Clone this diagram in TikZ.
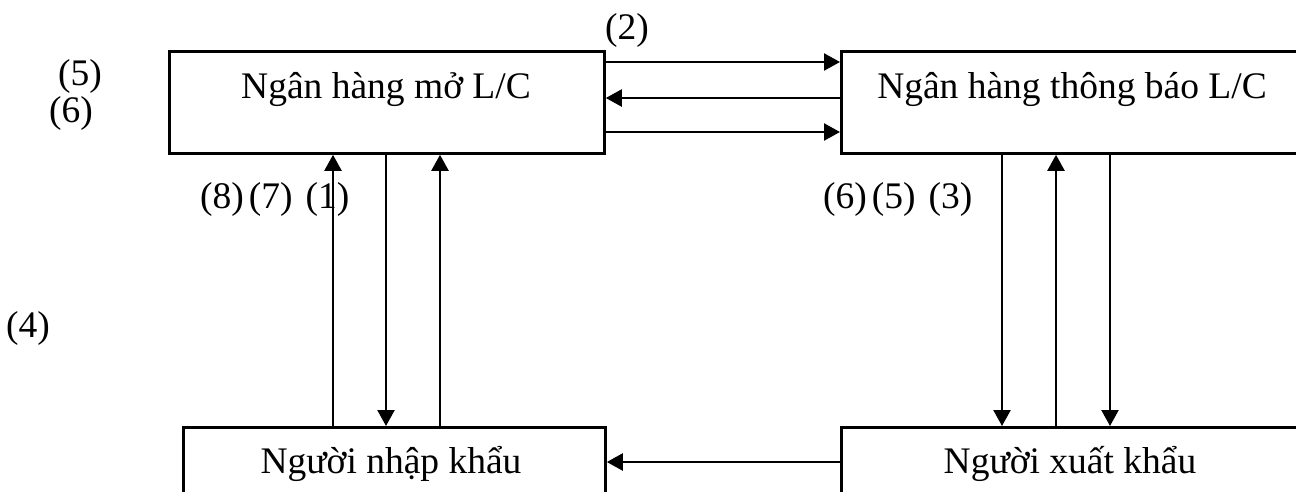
\documentclass[tikz,border=0pt]{standalone}
\usepackage{fontspec}
\setmainfont{Liberation Serif}
\usetikzlibrary{arrows.meta}
\begin{document}
\begin{tikzpicture}[x=1pt,y=-1pt,
  every node/.style={font=\fontsize{37.5}{44}\selectfont, inner sep=0pt},
  box/.style={draw, line width=2.8pt, anchor=north west},
  arr/.style={line width=2.3pt, -{Triangle[length=16pt,width=17pt]}}]
\useasboundingbox (0,0) rectangle (1296,491);
\clip (0,0) rectangle (1296,491);
% the four parties
\node[box, minimum width=435pt, minimum height=102pt] (mo) at (168,50) {};
\node[box, minimum width=520pt, minimum height=102pt] (tb) at (840,50) {};
\node[box, minimum width=422pt, minimum height=120pt] (nk) at (182,426) {};
\node[box, minimum width=520pt, minimum height=120pt] (xk) at (840,426) {};
\node (tmo) at (386,89) {Ngân hàng mở L/C};
\node (ttb) at (1072,89) {Ngân hàng thông báo L/C};
\node (tnk) at (391,464) {Người nhập khẩu};
\node (txk) at (1070,464) {Người xuất khẩu};
% banks
\draw[arr] (mo.east |- 0,62) -- (tb.west |- 0,62);
\draw[arr] (tb.west |- 0,98) -- (mo.east |- 0,98);
\draw[arr] (mo.east |- 0,132) -- (tb.west |- 0,132);
% issuing bank and importer
\draw[arr] (nk.north -| 333,0) -- (mo.south -| 333,0);
\draw[arr] (mo.south -| 386,0) -- (nk.north -| 386,0);
\draw[arr] (nk.north -| 440,0) -- (mo.south -| 440,0);
% advising bank and exporter
\draw[arr] (tb.south -| 1002,0) -- (xk.north -| 1002,0);
\draw[arr] (xk.north -| 1056,0) -- (tb.south -| 1056,0);
\draw[arr] (tb.south -| 1110,0) -- (xk.north -| 1110,0);
% exporter to importer
\draw[arr] (xk.west |- 0,462) -- (nk.east |- 0,462);
% step numbers
\node (l2) at (627,30) {(2)};
\node (l5) at (80,76) {(5)};
\node (l6) at (71,113) {(6)};
\node (l4) at (28,328) {(4)};
\node[anchor=west] (l871) at (200,199) {(8)\hspace{5pt}(7)\hspace{13pt}(1)};
\node[anchor=west] (l653) at (823,199) {(6)\hspace{5pt}(5)\hspace{13pt}(3)};
\end{tikzpicture}
\end{document}
